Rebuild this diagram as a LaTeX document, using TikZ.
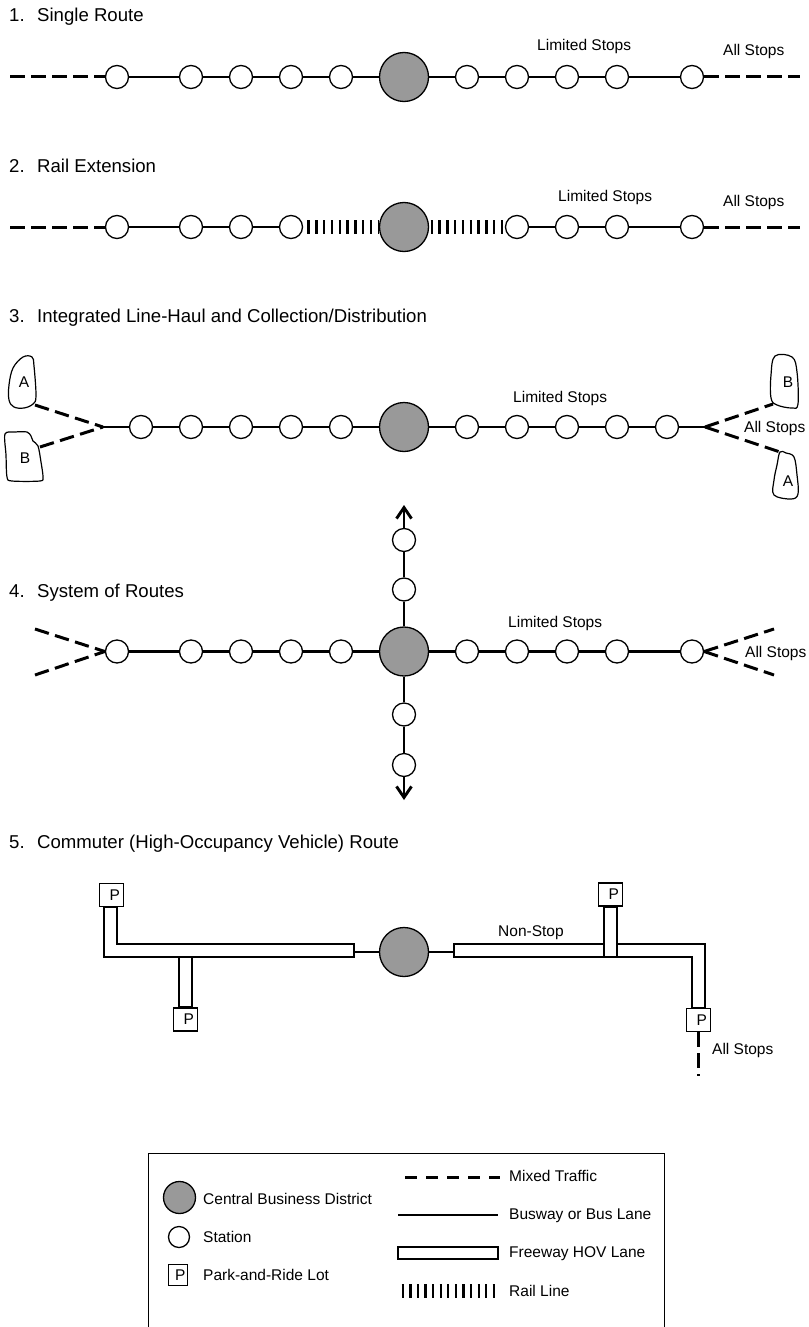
\documentclass[tikz,border=0pt]{standalone}
\usepackage{fontspec}
\setmainfont{Liberation Sans}
\usetikzlibrary{arrows.meta}
\definecolor{cbdgray}{RGB}{153,153,153}
\newcommand{\myttl}{\fontsize{18.6}{22}\selectfont}
\newcommand{\mylbl}{\fontsize{15.5}{18}\selectfont}
\begin{document}
\begin{tikzpicture}[x=1pt,y=-1pt,
  station/.style={circle, draw, fill=white, line width=1.3pt, minimum size=23pt, inner sep=0pt},
  cbd/.style={circle, draw, fill=cbdgray, line width=1.3pt, minimum size=49pt, inner sep=0pt},
  busline/.style={line width=2.9pt},
  mixed/.style={line width=3pt, dash pattern=on 14.5pt off 6.5pt},
  rail/.style={line width=14pt, dash pattern=on 2.3pt off 5.5pt},
  lane/.style={draw, fill=white, line width=1.2pt},
  pbox/.style={draw, fill=white, line width=1.2pt, minimum width=24pt, minimum height=23pt, inner sep=0pt, font=\mylbl},
  blob/.style={draw, fill=white, line width=1.2pt},
  title/.style={anchor=base west, font=\myttl, inner sep=0pt},
  lab/.style={anchor=base west, font=\mylbl, inner sep=0pt},
  blab/.style={font=\mylbl, inner sep=0pt},
  uparrow/.style={busline, -{Straight Barb[length=11pt,width=15pt]}},
]
\useasboundingbox (0,0) rectangle (808,1327);
\fill[white] (0,0) rectangle (808,1327);

% ---------------- Section 1 ----------------
\node[title] (t1) at (9,21.7) {1.\hspace{12.5pt}Single Route};
\node[cbd] (c1) at (404,77) {};
\foreach \n/\x in {a/117,b/191,c/241,d/291,e/341,f/467,g/517,h/567,i/617,j/692}
  \node[station] (s1\n) at (\x,77) {};
\coordinate (d1l) at (10,77);
\coordinate (d1r) at (800,77);
\draw[busline] (s1a) -- (s1b) -- (s1c) -- (s1d) -- (s1e) -- (c1) -- (s1f) -- (s1g) -- (s1h) -- (s1i) -- (s1j);
\draw[mixed] (d1l) -- (s1a);
\draw[mixed] (s1j) -- (d1r);
\node[lab] (ls1) at (537,51) {Limited Stops};
\node[lab] (as1) at (723,56) {All Stops};

% ---------------- Section 2 ----------------
\node[title] (t2) at (9,172) {2.\hspace{12.5pt}Rail Extension};
\node[cbd] (c2) at (404,227) {};
\foreach \n/\x in {a/117,b/191,c/241,d/291,g/517,h/567,i/617,j/692}
  \node[station] (s2\n) at (\x,227) {};
\coordinate (d2l) at (10,227);
\coordinate (d2r) at (800,227);
\draw[busline] (s2a) -- (s2b) -- (s2c) -- (s2d);
\draw[busline] (s2g) -- (s2h) -- (s2i) -- (s2j);
\draw[rail, dash phase=3.5pt] (s2d) -- (c2);
\draw[rail, dash phase=6.3pt] (c2) -- (s2g);
\draw[mixed] (d2l) -- (s2a);
\draw[mixed] (s2j) -- (d2r);
\node[lab] (ls2) at (558,201) {Limited Stops};
\node[lab] (as2) at (723,206) {All Stops};

% ---------------- Section 3 ----------------
\node[title] (t3) at (9,322) {3.\hspace{12.5pt}Integrated Line-Haul and Collection/Distribution};
\node[cbd] (c3) at (404,427) {};
\foreach \n/\x in {a/141,b/191,c/241,d/291,e/341,f/467,g/517,h/567,i/617,j/667}
  \node[station] (s3\n) at (\x,427) {};
\coordinate (v3l) at (103,427);
\coordinate (v3r) at (705,427);
\draw[busline] (v3l) -- (s3a) -- (s3b) -- (s3c) -- (s3d) -- (s3e) -- (c3) -- (s3f) -- (s3g) -- (s3h) -- (s3i) -- (s3j) -- (v3r);
% blobs
\draw[blob] plot[smooth cycle, tension=0.6] coordinates {(23,357) (32,357) (34,366) (36,396) (33,404) (24,408) (14,407) (9,400) (9,385) (13,368)};
\node[blab] (la3) at (24,382.5) {A};
\draw[blob] plot[smooth cycle, tension=0.5] coordinates {(5,434) (15,432) (27,432) (31,436) (33,441) (38,446) (41,462) (43,477) (40,481) (12,481) (7,477) (6,455)};
\node[blab] (lb3) at (25,458) {B};
\draw[blob] plot[smooth cycle, tension=0.6] coordinates {(775,356) (792,357) (797,372) (798,404) (792,408) (777,405) (771,398) (771,375)};
\node[blab] (rb3) at (788,382.5) {B};
\draw[blob] plot[smooth cycle, tension=0.6] coordinates {(780,452) (786,453) (794,457) (797,475) (798,494) (791,499) (774,495) (774,480) (777,465)};
\node[blab] (ra3) at (788,481) {A};
\coordinate (pa3l) at (35,405);
\coordinate (pb3l) at (40,447);
\coordinate (pb3r) at (773,404);
\coordinate (pa3r) at (780,452);
\draw[mixed] (pa3l) -- (v3l);
\draw[mixed] (pb3l) -- (v3l);
\draw[mixed] (v3r) -- (pb3r);
\draw[mixed] (v3r) -- (pa3r);
\node[lab] (ls3) at (513,402) {Limited Stops};
\node[lab] (as3) at (744,432) {All Stops};

% ---------------- Section 4 ----------------
\node[title] (t4) at (9,597) {4.\hspace{12.5pt}System of Routes};
\node[cbd] (c4) at (404,651.5) {};
\foreach \n/\x in {a/117,b/191,c/241,d/291,e/341,f/467,g/517,h/567,i/617,j/692}
  \node[station] (s4\n) at (\x,651.5) {};
\node[station] (s4u1) at (404,589.5) {};
\node[station] (s4u2) at (404,540) {};
\node[station] (s4d1) at (404,714.5) {};
\node[station] (s4d2) at (404,765) {};
\coordinate (a4u) at (404,505);
\coordinate (a4d) at (404,800);
\draw[busline] (s4a) -- (s4b) -- (s4c) -- (s4d) -- (s4e) -- (c4) -- (s4f) -- (s4g) -- (s4h) -- (s4i) -- (s4j);
\draw[busline] (c4) -- (s4u1) -- (s4u2);
\draw[busline] (c4) -- (s4d1) -- (s4d2);
\draw[uparrow] (s4u2) -- (a4u);
\draw[uparrow] (s4d2) -- (a4d);
\coordinate (e4lu) at (35,629);
\coordinate (e4ld) at (35,675);
\coordinate (e4ru) at (774,629);
\coordinate (e4rd) at (774,675);
\draw[mixed] (e4lu) -- (s4a.west);
\draw[mixed] (e4ld) -- (s4a.west);
\draw[mixed] (s4j.east) -- (e4ru);
\draw[mixed] (s4j.east) -- (e4rd);
\node[lab] (ls4) at (508,627) {Limited Stops};
\node[lab] (as4) at (745,657.5) {All Stops};

% ---------------- Section 5 ----------------
\node[title] (t5) at (9,848) {5.\hspace{12.5pt}Commuter (High-Occupancy Vehicle) Route};
\node[cbd] (c5) at (404,952) {};
\coordinate (l5l) at (354,952);
\coordinate (l5r) at (454,952);
\draw[busline] (l5l) -- (c5) -- (l5r);
% left lane with stubs
\draw[lane] (104,907) -- (104,957) -- (354,957) -- (354,944) -- (117,944) -- (117,907) -- cycle;
\draw[lane] (179,957) rectangle (192,1007);
% right lane with stubs
\draw[lane] (454,944) -- (705,944) -- (705,1008) -- (692,1008) -- (692,957) -- (454,957) -- cycle;
\draw[lane] (604,907) rectangle (617,957);
% park-and-ride lots
\node[pbox] (p1) at (111.5,895) {\makebox[24pt][r]{P\hspace{3.5pt}}};
\node[pbox] (p2) at (185.5,1019.5) {\makebox[24pt][r]{P\hspace{3.5pt}}};
\node[pbox] (p3) at (610.5,894.5) {\makebox[24pt][r]{P\hspace{3.5pt}}};
\node[pbox] (p4) at (698.5,1020) {\makebox[24pt][r]{P\hspace{3.5pt}}};
\coordinate (d5) at (698.5,1076);
\draw[mixed] (p4) -- (d5);
\node[lab] (ns5) at (498,936) {Non-Stop};
\node[lab] (as5) at (712,1054) {All Stops};

% ---------------- Legend ----------------
\draw[line width=1pt] (148,1335) -- (148,1153) -- (664,1153) -- (664,1335);
\node[cbd, minimum size=32pt] (lgc) at (179.5,1197.5) {};
\node[station, minimum size=21pt] (lgs) at (179,1237) {};
\node[pbox, minimum width=19pt, minimum height=21pt] (lgp) at (178,1275) {\makebox[19pt][r]{P\hspace{2pt}}};
\node[lab] (lgt1) at (203,1204.5) {Central Business District};
\node[lab] (lgt2) at (203,1242.5) {Station};
\node[lab] (lgt3) at (203,1280.5) {Park-and-Ride Lot};
\coordinate (lm1) at (405,1177);
\coordinate (lm2) at (500,1177);
\draw[line width=3pt, dash pattern=on 11.5pt off 9.5pt] (lm1) -- (lm2);
\coordinate (lb1) at (398,1215);
\coordinate (lb2) at (498,1215);
\draw[busline] (lb1) -- (lb2);
\draw[lane] (398,1247) rectangle (498,1259);
\coordinate (lr1) at (401.7,1291);
\coordinate (lr2) at (496,1291);
\draw[line width=14pt, dash pattern=on 2.3pt off 5.28pt] (lr1) -- (lr2);
\node[lab] (lgt4) at (509,1181.5) {Mixed Traffic};
\node[lab] (lgt5) at (509,1219.5) {Busway or Bus Lane};
\node[lab] (lgt6) at (509,1257.5) {Freeway HOV Lane};
\node[lab] (lgt7) at (509,1296.5) {Rail Line};
\end{tikzpicture}
\end{document}
